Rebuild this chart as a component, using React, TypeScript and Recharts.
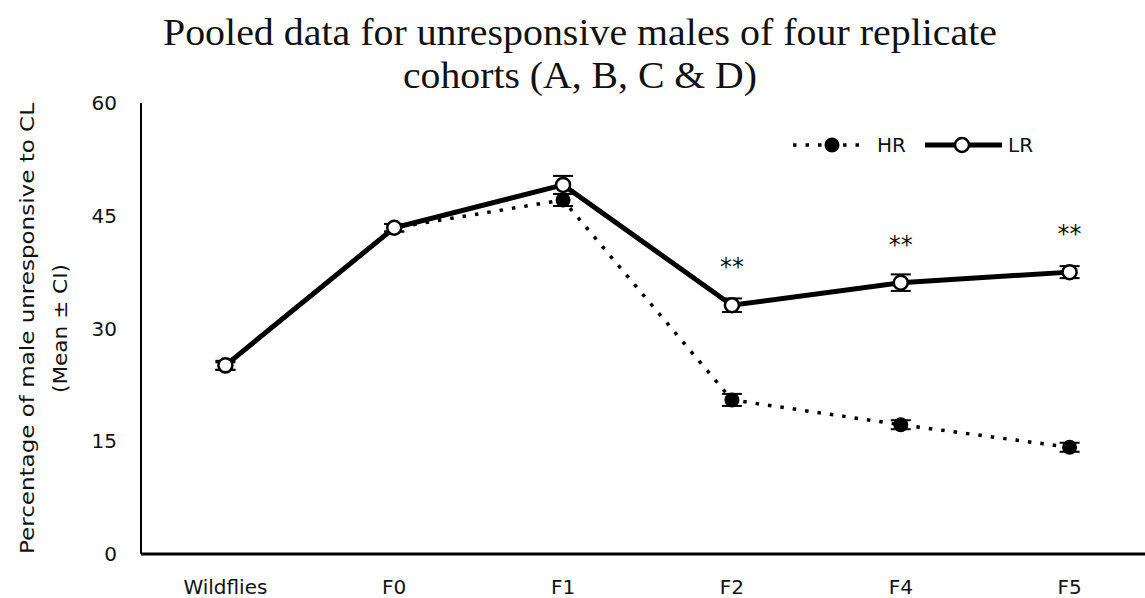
import React from 'react';
import { LineChart, Line, XAxis, YAxis, Legend, ErrorBar, LabelList, Label } from 'recharts';

const categories = ['Wildflies', 'F0', 'F1', 'F2', 'F4', 'F5'];
const hrValues = [25.0, 43.4, 47.1, 20.5, 17.2, 14.2];
const lrValues = [25.1, 43.4, 49.1, 33.1, 36.1, 37.5];
const hrErrors = [0.5, 0.5, 0.8, 0.8, 0.6, 0.6];
const lrErrors = [0.6, 0.5, 1.2, 0.9, 1.1, 0.8];
const significance = ['', '', '', '**', '**', '**'];
const yTicks = [0, 15, 30, 45, 60];

const data = categories.map((c, i) => ({
  name: c,
  HR: hrValues[i],
  LR: lrValues[i],
  hrErr: hrErrors[i],
  lrErr: lrErrors[i],
  sig: significance[i],
}));

const FONT = '"DejaVu Sans", Verdana, sans-serif';
const INK = '#111';

const renderLegend = () => (
  <svg width={270} height={40} style={{ display: 'block' }}>
    <g transform="translate(-780,-125)">
      <line x1={793} y1={145} x2={860} y2={145} stroke="#000" strokeWidth={3.5} strokeDasharray="3.5 9" />
      <circle cx={832} cy={145} r={7.5} fill="#000" />
      <text x={877} y={152} fontFamily={FONT} fontSize={20} fill={INK}>HR</text>
      <line x1={925} y1={145} x2={1002} y2={145} stroke="#000" strokeWidth={5} />
      <circle cx={962} cy={145} r={7} fill="#fff" stroke="#000" strokeWidth={2.5} />
      <text x={1008} y={152} fontFamily={FONT} fontSize={20} fill={INK}>LR</text>
    </g>
  </svg>
);

const StarLabel = (props: any) => {
  const { x, y, value } = props;
  if (!value) return null;
  return (
    <text x={x} y={y - 30} textAnchor="middle" fontFamily={FONT} fontSize={24} fill={INK}>
      {value}
    </text>
  );
};

const YLabel = (props: any) => {
  const vb = props.viewBox || {};
  const top = typeof vb.y === 'number' ? vb.y : 103;
  const h = typeof vb.height === 'number' ? vb.height : 451;
  const right = (typeof vb.x === 'number' ? vb.x : 0) + (typeof vb.width === 'number' ? vb.width : 141);
  const cy = top + h / 2;
  const x1 = right - 114;
  const x2 = right - 81;
  return (
    <g>
      <text
        x={x1}
        y={cy}
        transform={`rotate(-90, ${x1}, ${cy})`}
        textAnchor="middle"
        dominantBaseline="central"
        fontFamily={FONT}
        fontSize={20}
        fill={INK}
        textLength={451}
        lengthAdjust="spacingAndGlyphs"
      >
        Percentage of male unresponsive to CL
      </text>
      <text
        x={x2}
        y={cy}
        transform={`rotate(-90, ${x2}, ${cy})`}
        textAnchor="middle"
        dominantBaseline="central"
        fontFamily={FONT}
        fontSize={20}
        fill={INK}
        textLength={129}
        lengthAdjust="spacingAndGlyphs"
      >
        (Mean ± CI)
      </text>
    </g>
  );
};

export default function App() {
  return (
    <div
      style={{
        position: 'fixed',
        left: 0,
        top: 0,
        width: 1145,
        height: 598,
        overflow: 'hidden',
        background: '#fff',
      }}
    >
      <svg
        width={1145}
        height={100}
        style={{ position: 'absolute', left: 0, top: 0, zIndex: 2 }}
      >
        <text
          x={580}
          y={45}
          textAnchor="middle"
          fontFamily='"Liberation Serif", "Times New Roman", serif'
          fontSize={37}
          fill={INK}
          textLength={834}
          lengthAdjust="spacingAndGlyphs"
        >
          Pooled data for unresponsive males of four replicate
        </text>
        <text
          x={580}
          y={88}
          textAnchor="middle"
          fontFamily='"Liberation Serif", "Times New Roman", serif'
          fontSize={37}
          fill={INK}
          textLength={354}
          lengthAdjust="spacingAndGlyphs"
        >
          cohorts (A, B, C &amp; D)
        </text>
      </svg>
      <LineChart
        width={1155}
        height={598}
        data={data}
        margin={{ top: 103, right: 1, bottom: 0, left: 0 }}
      >
        <XAxis
          dataKey="name"
          padding={{ left: 84.4, right: 84.4 }}
          height={44}
          tickLine={false}
          tickSize={0}
          tickMargin={26}
          axisLine={{ stroke: '#000', strokeWidth: 3 }}
          tick={{ fontFamily: FONT, fontSize: 20, fill: INK }}
          interval={0}
        />
        <YAxis
          domain={[0, 60]}
          ticks={yTicks}
          width={141}
          tickLine={false}
          tickSize={0}
          tickMargin={24}
          axisLine={{ stroke: '#000', strokeWidth: 2 }}
          tick={{ fontFamily: FONT, fontSize: 20, fill: INK }}
          allowDataOverflow
        >
          <Label content={<YLabel />} position="left" />
        </YAxis>
        <Legend
          content={renderLegend}
          layout="horizontal"
          verticalAlign="middle"
          align="center"
          wrapperStyle={{ top: 125, left: 780, width: 270, height: 40 }}
        />
        <Line
          type="linear"
          dataKey="HR"
          stroke="#000"
          strokeWidth={3.5}
          strokeDasharray="3.5 9"
          dot={{ r: 7.5, fill: '#000', stroke: '#000', strokeWidth: 0 }}
          activeDot={false}
          isAnimationActive={false}
        >
          <ErrorBar dataKey="hrErr" width={10} stroke="#000" strokeWidth={2} direction="y" />
        </Line>
        <Line
          type="linear"
          dataKey="LR"
          stroke="#000"
          strokeWidth={5}
          dot={{ r: 7, fill: '#fff', stroke: '#000', strokeWidth: 2.5 }}
          activeDot={false}
          isAnimationActive={false}
        >
          <ErrorBar dataKey="lrErr" width={10} stroke="#000" strokeWidth={2} direction="y" />
          <LabelList dataKey="sig" content={<StarLabel />} />
        </Line>
      </LineChart>
    </div>
  );
}
